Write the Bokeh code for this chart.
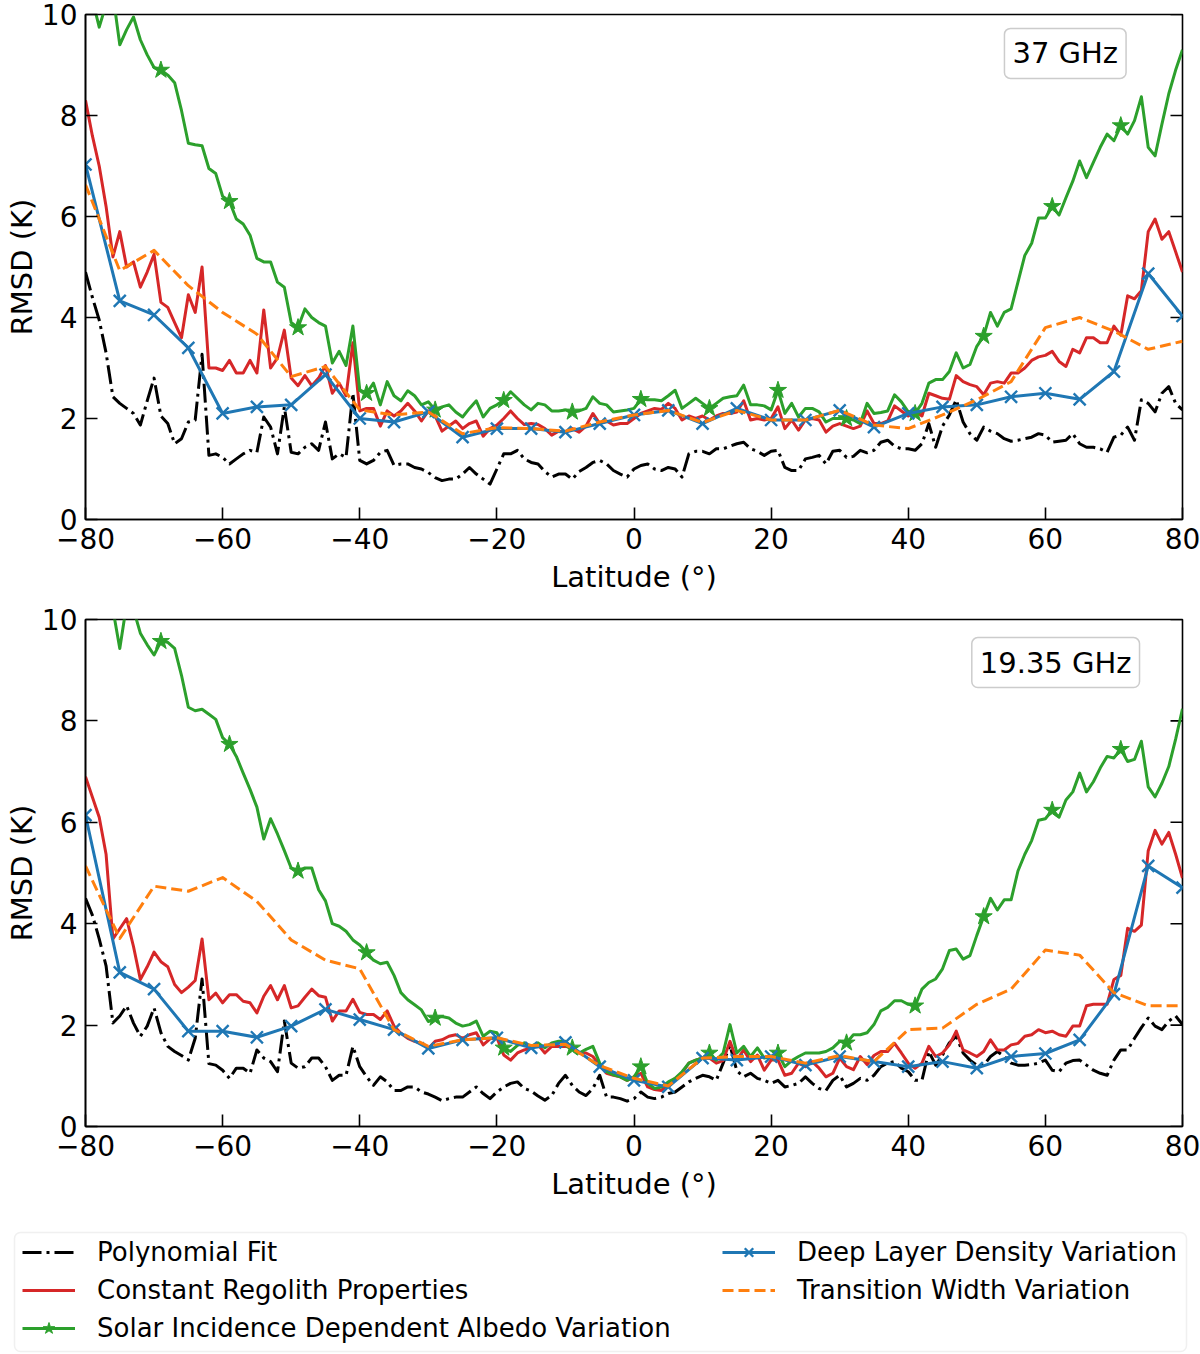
import math

from bokeh.plotting import figure
from bokeh.models import (Range1d, FixedTicker, Label, Legend,
                          LegendItem, BoxAnnotation)
from bokeh.layouts import column
from bokeh.embed import file_html
from bokeh.resources import INLINE

# Latitude grids: 1-degree bins for the model/fit curves, 5-degree steps for
# the two variation runs.
lat = list(range(-80, 81))
lat5 = list(range(-80, 81, 5))

# ---------------- 37 GHz ----------------
poly_37 = [
    4.9, 4.4, 3.95, 3.3, 2.43, 2.3, 2.2, 2.1, 1.87, 2.35,      # -80 .. -71
    2.8, 2.05, 1.9, 1.5, 1.6, 1.93, 1.97, 3.27, 1.27, 1.3,      # -70 .. -61
    1.23, 1.1, 1.2, 1.3, 1.37, 1.33, 2.03, 1.83, 1.3, 2.23,     # -60 .. -51
    1.33, 1.3, 1.43, 1.5, 1.37, 1.93, 1.2, 1.3, 1.23, 2.5,      # -50 .. -41
    1.17, 1.1, 1.17, 1.33, 1.37, 1.07, 1.1, 1.1, 1.03, 1.0,     # -40 .. -31
    0.93, 0.83, 0.77, 0.8, 0.8, 0.9, 1.03, 0.9, 0.8, 0.7,       # -30 .. -21
    1.0, 1.3, 1.3, 1.37, 1.2, 1.13, 1.1, 0.95, 0.84, 0.9,       # -20 .. -11
    0.9, 0.8, 0.95, 1.03, 1.13, 1.17, 1.1, 0.97, 0.9, 0.84,     # -10 .. -1
    1.0, 1.07, 1.1, 1.0, 0.97, 1.03, 1.0, 0.84, 1.3, 1.35,      # 0 .. 9
    1.35, 1.3, 1.4, 1.4, 1.45, 1.5, 1.53, 1.4, 1.35, 1.27,      # 10 .. 19
    1.35, 1.37, 1.03, 0.97, 0.97, 1.2, 1.23, 1.27, 1.1, 1.35,   # 20 .. 29
    1.37, 1.23, 1.25, 1.37, 1.32, 1.37, 1.53, 1.57, 1.45, 1.4,  # 30 .. 39
    1.4, 1.37, 1.5, 1.9, 1.43, 1.85, 2.07, 2.37, 1.93, 1.7,     # 40 .. 49
    1.57, 1.83, 1.75, 1.7, 1.6, 1.55, 1.57, 1.6, 1.63, 1.7,     # 50 .. 59
    1.67, 1.53, 1.55, 1.57, 1.7, 1.5, 1.43, 1.43, 1.4, 1.33,    # 60 .. 69
    1.63, 1.67, 1.83, 1.57, 2.37, 2.3, 2.13, 2.5, 2.63, 2.3,    # 70 .. 79
    2.17,                                                       # 80
]
const_37 = [
    8.3, 7.6, 7.0, 6.2, 5.2, 5.7, 5.0, 5.1, 4.6, 4.9,
    5.25, 4.3, 4.2, 3.9, 3.6, 4.45, 4.1, 5.0, 3.0, 3.0,
    2.95, 3.15, 2.9, 2.9, 3.15, 2.9, 4.15, 3.0, 3.2, 3.75,
    2.8, 2.65, 2.85, 2.65, 2.8, 3.05, 2.5, 2.7, 2.45, 3.5,
    2.15, 2.2, 2.2, 1.85, 2.15, 2.05, 2.15, 2.3, 2.15, 1.95,
    2.15, 2.05, 1.75, 1.85, 1.95, 1.8, 1.9, 1.95, 1.65, 1.8,
    1.87, 2.0, 2.15, 2.0, 1.88, 1.9, 1.88, 1.8, 1.67, 1.75,
    1.73, 1.8, 1.73, 1.85, 2.1, 1.9, 1.95, 1.87, 1.9, 1.9,
    2.0, 2.1, 2.15, 2.2, 2.18, 2.3, 2.2, 1.97, 2.05, 2.0,
    2.05, 1.97, 2.05, 2.1, 2.1, 2.13, 2.35, 1.97, 2.0, 1.97,
    2.0, 2.23, 1.8, 1.97, 1.77, 1.97, 2.0, 1.97, 1.73, 1.85,
    1.9, 1.85, 1.8, 1.85, 2.15, 1.9, 1.9, 1.95, 2.25, 2.15,
    2.05, 2.15, 2.05, 2.5, 2.45, 2.4, 2.38, 2.85, 2.73, 2.67,
    2.63, 2.47, 2.7, 2.73, 2.7, 2.9, 2.9, 3.0, 3.15, 3.22,
    3.25, 3.33, 3.13, 3.03, 3.37, 3.3, 3.6, 3.6, 3.5, 3.5,
    3.83, 3.65, 4.43, 4.37, 4.53, 5.7, 5.95, 5.55, 5.7, 5.3,
    4.9,
]
albedo_37 = [
    10.0, 10.3, 9.75, 10.2, 10.4, 9.4, 9.7, 9.95, 9.5, 9.2,
    8.95, 8.9, 8.8, 8.65, 8.1, 7.45, 7.42, 7.4, 6.95, 6.85,
    6.4, 6.3, 5.95, 5.85, 5.63, 5.17, 5.1, 5.1, 4.7, 4.6,
    3.9, 3.8, 4.17, 4.0, 3.9, 3.83, 3.1, 3.33, 3.05, 3.83,
    2.57, 2.5, 2.7, 2.27, 2.73, 2.45, 2.35, 2.55, 2.45, 2.27,
    2.33, 2.17, 2.23, 2.27, 2.13, 2.03, 2.2, 2.35, 2.03, 2.2,
    2.27, 2.36, 2.53, 2.4, 2.27, 2.17, 2.3, 2.27, 2.15, 2.15,
    2.17, 2.13, 2.15, 2.2, 2.43, 2.3, 2.27, 2.13, 2.15, 2.17,
    2.2, 2.38, 2.37, 2.37, 2.35, 2.45, 2.56, 2.2, 2.3, 2.4,
    2.3, 2.2, 2.3, 2.4, 2.43, 2.45, 2.66, 2.27, 2.27, 2.25,
    2.17, 2.56, 2.1, 2.3, 2.03, 2.2, 2.2, 2.13, 1.93, 2.0,
    2.0, 2.0, 1.97, 1.9, 2.3, 2.1, 2.12, 2.15, 2.47, 2.33,
    2.13, 2.1, 2.3, 2.7, 2.77, 2.77, 2.93, 3.3, 3.0, 3.07,
    3.43, 3.63, 4.1, 3.83, 4.1, 4.17, 4.7, 5.23, 5.47, 5.97,
    5.97, 6.2, 6.03, 6.37, 6.7, 7.1, 6.77, 7.07, 7.37, 7.63,
    7.5, 7.8, 7.63, 7.9, 8.37, 7.37, 7.2, 7.83, 8.43, 8.9,
    9.3,
]
deep_37 = [7.03, 4.33, 4.05, 3.4, 2.1, 2.23, 2.27, 2.87, 2.0, 1.93, 2.13,
           1.63, 1.8, 1.8, 1.73, 1.9, 2.07, 2.16, 1.9, 2.2, 1.97, 1.97,
           2.16, 1.83, 2.1, 2.23, 2.27, 2.43, 2.5, 2.38, 2.93, 4.87, 4.03]
trans_37 = [6.63, 4.93, 5.33, 4.63, 4.1, 3.67, 2.83, 3.03, 2.17, 2.07, 2.13,
            1.7, 1.82, 1.8, 1.75, 1.93, 2.07, 2.16, 1.92, 2.16, 1.97, 1.97,
            2.16, 1.87, 1.8, 2.07, 2.37, 2.73, 3.8, 4.0, 3.73, 3.37, 3.53]

# ---------------- 19.35 GHz ----------------
poly_19 = [
    4.5, 4.17, 3.7, 3.17, 2.04, 2.18, 2.38, 2.04, 1.78, 1.98,
    2.34, 1.85, 1.58, 1.48, 1.4, 1.31, 1.74, 2.91, 1.24, 1.21,
    1.11, 0.95, 1.15, 1.15, 1.05, 1.51, 1.35, 1.28, 1.08, 2.08,
    1.25, 1.15, 1.18, 1.35, 1.35, 1.18, 0.91, 1.01, 1.01, 1.58,
    1.18, 0.98, 0.81, 0.98, 0.88, 0.71, 0.71, 0.78, 0.78, 0.68,
    0.64, 0.58, 0.51, 0.55, 0.58, 0.58, 0.68, 0.78, 0.65, 0.55,
    0.68, 0.78, 0.85, 0.88, 0.75, 0.7, 0.6, 0.52, 0.61, 0.85,
    1.01, 0.81, 0.68, 0.61, 0.75, 1.01, 0.58, 0.58, 0.55, 0.5,
    0.55, 0.68, 0.58, 0.55, 0.58, 0.65, 0.68, 0.78, 0.88, 0.95,
    1.01, 0.98, 0.91, 1.25, 1.6, 1.1, 0.98, 1.05, 0.95, 0.91,
    0.85, 0.91, 0.78, 0.81, 0.85, 0.98, 0.85, 0.75, 0.71, 0.91,
    1.01, 0.78, 0.85, 0.95, 0.91, 1.01, 1.18, 1.25, 1.28, 1.15,
    1.08, 0.91, 0.91, 1.48, 1.21, 1.41, 1.65, 1.78, 1.45, 1.31,
    1.21, 1.21, 1.38, 1.48, 1.38, 1.25, 1.21, 1.21, 1.22, 1.25,
    1.31, 1.11, 1.08, 1.25, 1.3, 1.31, 1.21, 1.11, 1.05, 1.01,
    1.31, 1.51, 1.51, 1.74, 1.95, 2.14, 1.98, 1.91, 2.08, 2.18,
    2.01,
]
const_19 = [
    6.9, 6.5, 6.1, 5.37, 3.7, 3.9, 4.1, 3.55, 2.9, 3.15,
    3.44, 3.25, 3.15, 2.8, 2.64, 2.75, 2.88, 3.7, 2.5, 2.63,
    2.44, 2.6, 2.6, 2.47, 2.44, 2.24, 2.57, 2.78, 2.5, 2.78,
    2.34, 2.38, 2.55, 2.71, 2.58, 2.55, 2.08, 2.28, 2.28, 2.51,
    2.25, 2.21, 2.21, 2.11, 2.28, 1.98, 1.84, 1.74, 1.68, 1.64,
    1.54, 1.68, 1.71, 1.78, 1.81, 1.74, 1.81, 1.85, 1.61, 1.73,
    1.75, 1.41, 1.31, 1.45, 1.51, 1.55, 1.61, 1.45, 1.58, 1.58,
    1.58, 1.55, 1.45, 1.45, 1.38, 1.21, 1.05, 1.01, 0.98, 0.91,
    0.98, 1.05, 0.78, 0.73, 0.71, 0.85, 0.95, 1.05, 1.25, 1.31,
    1.35, 1.35, 1.25, 1.3, 1.68, 1.31, 1.51, 1.28, 1.41, 1.11,
    1.31, 1.31, 1.01, 1.05, 1.25, 1.18, 1.28, 1.15, 0.98, 1.05,
    1.35, 1.18, 1.12, 1.38, 1.22, 1.4, 1.48, 1.48, 1.64, 1.45,
    1.25, 1.15, 1.25, 1.58, 1.38, 1.45, 1.61, 1.88, 1.51, 1.45,
    1.38, 1.48, 1.71, 1.51, 1.51, 1.61, 1.64, 1.78, 1.81, 1.91,
    1.85, 1.88, 1.81, 1.78, 1.98, 1.98, 2.38, 2.41, 2.41, 2.41,
    2.9, 2.98, 3.91, 3.85, 3.97, 5.44, 5.84, 5.57, 5.8, 5.37,
    4.9,
]
albedo_19 = [
    10.05, 10.3, 10.5, 10.3, 10.2, 9.43, 10.3, 10.2, 9.73, 9.5,
    9.3, 9.57, 9.55, 9.43, 8.9, 8.27, 8.2, 8.23, 8.13, 8.03,
    7.67, 7.54, 7.3, 6.97, 6.65, 6.3, 5.67, 6.07, 5.77, 5.44,
    5.1, 5.04, 5.1, 5.1, 4.67, 4.45, 4.0, 3.95, 3.85, 3.68,
    3.58, 3.43, 3.28, 3.21, 3.24, 2.98, 2.64, 2.5, 2.4, 2.3,
    2.07, 2.14, 2.17, 2.14, 2.04, 1.98, 2.01, 2.08, 1.78, 1.88,
    1.85, 1.55, 1.48, 1.6, 1.65, 1.58, 1.65, 1.55, 1.65, 1.68,
    1.68, 1.55, 1.45, 1.52, 1.58, 1.25, 1.08, 1.02, 0.98, 0.91,
    0.98, 1.18, 0.85, 0.75, 0.78, 0.88, 0.95, 1.08, 1.25, 1.31,
    1.35, 1.45, 1.31, 1.45, 2.01, 1.45, 1.58, 1.38, 1.55, 1.35,
    1.38, 1.45, 1.18, 1.3, 1.38, 1.45, 1.45, 1.45, 1.48, 1.55,
    1.68, 1.65, 1.81, 1.81, 1.85, 2.01, 2.28, 2.35, 2.48, 2.48,
    2.41, 2.38, 2.71, 2.84, 2.91, 3.11, 3.47, 3.5, 3.3, 3.37,
    3.77, 4.14, 4.5, 4.27, 4.47, 4.47, 5.04, 5.37, 5.64, 6.04,
    6.07, 6.24, 6.1, 6.44, 6.6, 6.97, 6.6, 6.8, 7.07, 7.3,
    7.27, 7.44, 7.2, 7.24, 7.6, 6.7, 6.5, 6.77, 7.1, 7.64,
    8.24,
]
deep_19 = [6.14, 3.04, 2.71, 1.88, 1.88, 1.76, 1.98, 2.31, 2.11, 1.91, 1.54,
           1.71, 1.75, 1.55, 1.66, 1.18, 0.91, 0.78, 1.35, 1.31, 1.38, 1.21,
           1.38, 1.28, 1.18, 1.28, 1.15, 1.38, 1.44, 1.71, 2.61, 5.14, 4.71]
trans_19 = [5.14, 3.71, 4.74, 4.64, 4.91, 4.44, 3.68, 3.28, 3.11, 1.91, 1.58,
            1.71, 1.75, 1.6, 1.62, 1.2, 0.95, 0.8, 1.35, 1.38, 1.38, 1.25,
            1.4, 1.28, 1.91, 1.94, 2.41, 2.71, 3.48, 3.38, 2.64, 2.38, 2.38]

x_ticks = [-80, -60, -40, -20, 0, 20, 40, 60, 80]
y_ticks = [0, 2, 4, 6, 8, 10]
x_tick_text = {t: ("\u2212" + str(abs(t)) if t < 0 else str(t)) for t in x_ticks}

labels = ["Polynomial Fit", "Constant Regolith Properties",
          "Solar Incidence Dependent Albedo Variation",
          "Deep Layer Density Variation", "Transition Width Variation"]

FONT = "DejaVu Sans"
BLACK, RED, GREEN, BLUE, ORANGE = "#000000", "#d62728", "#2ca02c", "#1f77b4", "#ff7f0e"
LW = 3.0
DASHDOT = "19 5 3 5"
DASHED = "11 5"
TICK_LEN = 12
STAR_SIZE = 18
X_SIZE = 17

styles = {
    "poly": dict(line_color=BLACK, line_width=LW, line_dash=DASHDOT),
    "const": dict(line_color=RED, line_width=LW),
    "albedo": dict(line_color=GREEN, line_width=LW),
    "deep": dict(line_color=BLUE, line_width=LW),
    "trans": dict(line_color=ORANGE, line_width=LW, line_dash=DASHED),
}
star_style = dict(marker="star", size=STAR_SIZE, fill_color=GREEN,
                  line_color=GREEN, line_width=1)
x_style = dict(marker="x", size=X_SIZE, line_color=BLUE, line_width=2.4)


def style_axis(ax):
    ax.major_tick_in = TICK_LEN
    ax.major_tick_out = 0
    ax.minor_tick_in = 0
    ax.minor_tick_out = 0
    ax.major_tick_line_width = 1.6
    ax.axis_line_width = 1.6
    ax.major_label_text_font = FONT
    ax.major_label_text_font_size = "28px"
    ax.major_label_text_color = "black"
    ax.axis_label_text_font = FONT
    ax.axis_label_text_font_size = "29px"
    ax.axis_label_text_font_style = "normal"
    ax.axis_label_text_color = "black"


def panel(poly, const, albedo, deep, trans, band, band_x, band_y,
          height, border_top, border_bottom):
    p = figure(width=1200, height=height, output_backend="svg", toolbar_location=None,
               x_range=Range1d(-80, 80), y_range=Range1d(0, 10),
               min_border_left=85, min_border_right=18, min_border_top=border_top,
               min_border_bottom=border_bottom)
    p.xgrid.visible = False
    p.ygrid.visible = False
    p.outline_line_color = "black"
    p.outline_line_width = 1.6
    p.background_fill_color = "white"

    p.xaxis.ticker = FixedTicker(ticks=x_ticks)
    p.xaxis.major_label_overrides = x_tick_text
    p.yaxis.ticker = FixedTicker(ticks=y_ticks)
    p.xaxis.axis_label = "Latitude (\u00b0)"
    p.yaxis.axis_label = "RMSD (K)"
    style_axis(p.xaxis[0])
    style_axis(p.yaxis[0])
    p.xaxis.major_label_standoff = 8
    p.xaxis.axis_label_standoff = 8
    p.yaxis.major_label_standoff = 8
    p.yaxis.axis_label_standoff = 0

    # inward ticks along the right edge of the frame
    p.ray(x=[x_ticks[-1]] * len(y_ticks), y=y_ticks, length=TICK_LEN,
          length_units="screen", angle=math.pi, line_color="black", line_width=1.6)

    p.line(lat, poly, line_join="round", **styles["poly"])
    p.line(lat, const, line_join="round", **styles["const"])
    p.line(lat, albedo, line_join="round", **styles["albedo"])
    p.scatter(lat[1::10], albedo[1::10], **star_style)
    p.line(lat5, deep, line_join="round", **styles["deep"])
    p.scatter(lat5, deep, **x_style)
    p.line(lat5, trans, line_join="round", **styles["trans"])

    p.add_layout(Label(x=band_x, y=band_y, text=band, text_align="center",
                       text_baseline="middle", text_font=FONT, text_font_size="29px",
                       text_color="black", background_fill_color="white",
                       border_line_color="#cccccc", border_line_width=1.5,
                       border_radius=6, padding=8))
    return p


top = panel(poly_37, const_37, albedo_37, deep_37, trans_37,
            "37 GHz", 62.9, 9.23, 604, 14, 85)
bottom = panel(poly_19, const_19, albedo_19, deep_19, trans_19,
               "19.35 GHz", 61.5, 9.15, 615, 15, 93)

# Shared legend below both panels (its own frame spans the full width)
leg = figure(width=1200, height=135, output_backend="svg", toolbar_location=None,
             x_range=Range1d(0, 1200), y_range=Range1d(0, 135),
             x_axis_type=None, y_axis_type=None, min_border=0, frame_align=False)
leg.outline_line_color = None
leg.add_layout(BoxAnnotation(left=14, right=1186, bottom=3, top=122,
                             fill_color="white", fill_alpha=1,
                             line_color="#cccccc", line_width=1.5, border_radius=6))

nan = [float("nan")]
r_poly = leg.line(nan, nan, **styles["poly"])
r_const = leg.line(nan, nan, **styles["const"])
r_alb = leg.line(nan, nan, **styles["albedo"])
r_alb_m = leg.scatter(nan, nan, **star_style)
r_deep = leg.line(nan, nan, **styles["deep"])
r_deep_m = leg.scatter(nan, nan, **x_style)
r_trans = leg.line(nan, nan, **styles["trans"])


def make_legend(items, loc):
    return Legend(items=items, location=loc, orientation="vertical",
                  glyph_width=53, glyph_height=30, label_height=30, spacing=8,
                  label_standoff=22, padding=0, margin=0,
                  label_text_font=FONT, label_text_font_size="26px",
                  label_text_color="black",
                  border_line_alpha=0, background_fill_alpha=0)


leg.add_layout(make_legend([
    LegendItem(label=labels[0], renderers=[r_poly]),
    LegendItem(label=labels[1], renderers=[r_const]),
    LegendItem(label=labels[2], renderers=[r_alb, r_alb_m]),
], (22, 11)))
leg.add_layout(make_legend([
    LegendItem(label=labels[3], renderers=[r_deep, r_deep_m]),
    LegendItem(label=labels[4], renderers=[r_trans]),
], (722, 49)))

layout = column(top, bottom, leg, spacing=0)

with open("out.html", "w") as f:
    f.write(file_html(layout, INLINE))
